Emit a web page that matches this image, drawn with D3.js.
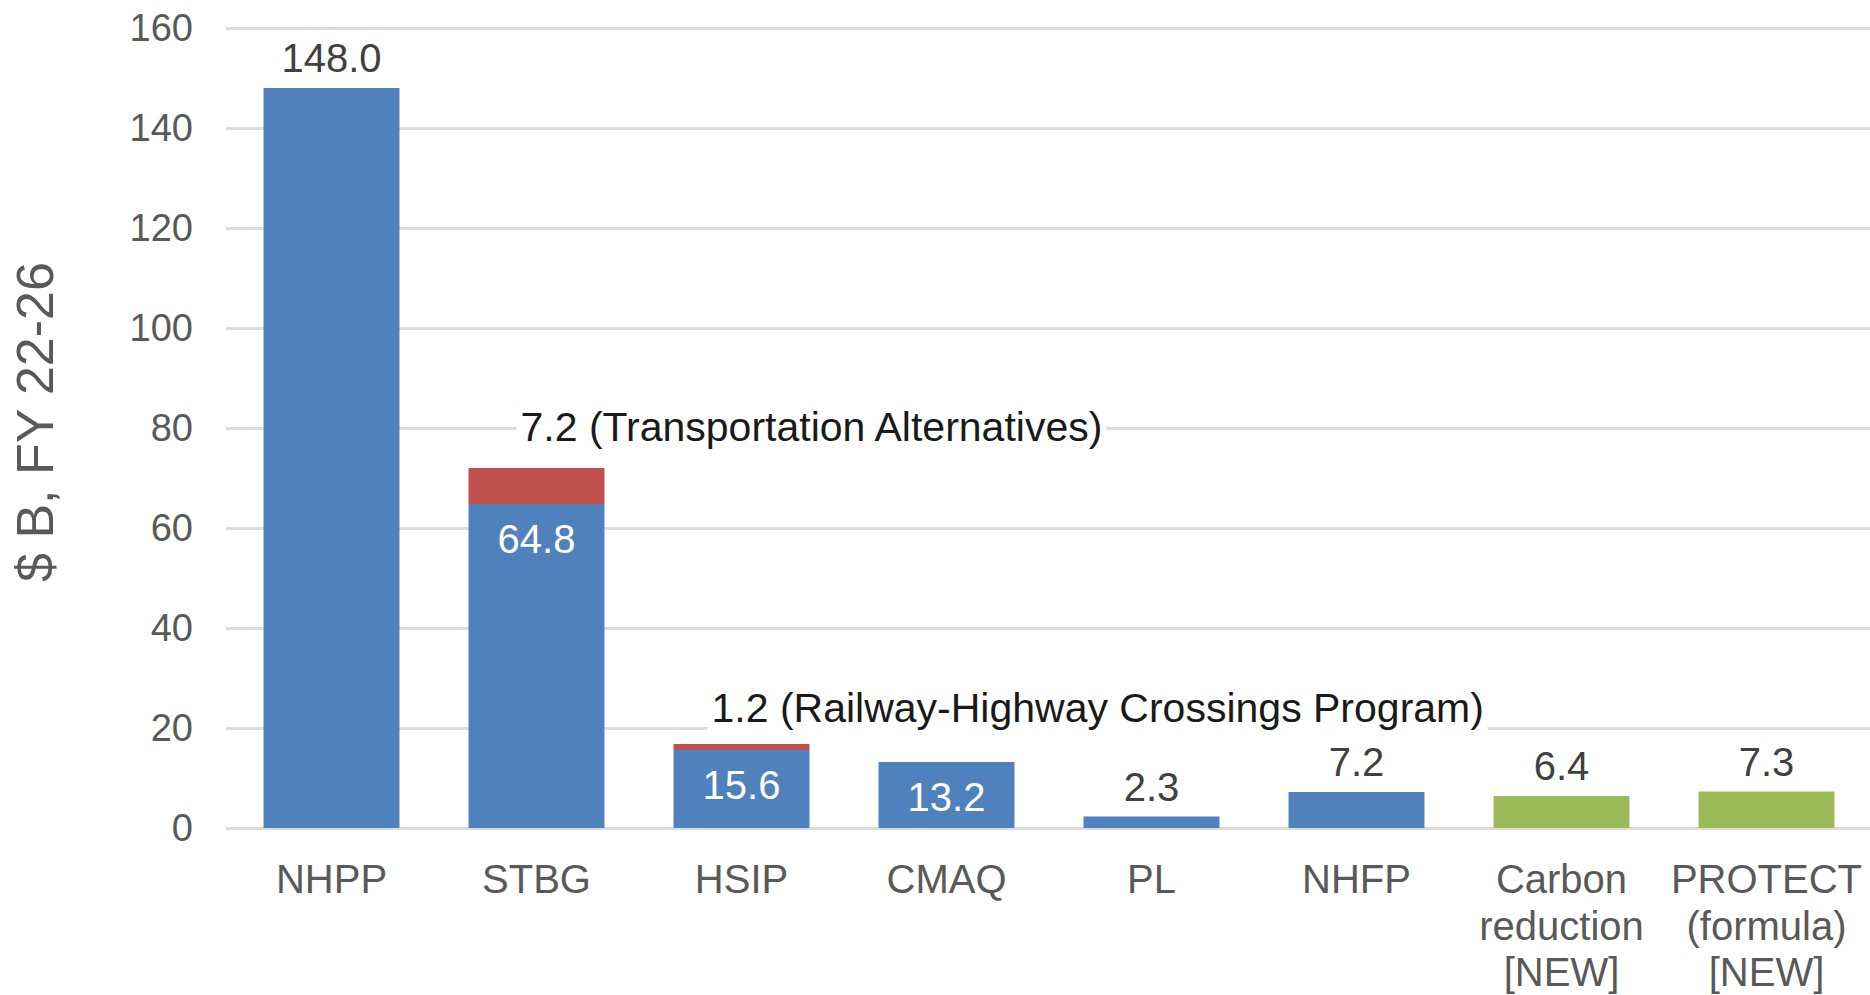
<!DOCTYPE html>
<html>
<head>
<meta charset="utf-8">
<script src="https://cdn.jsdelivr.net/npm/d3@7"></script>
<style>
    body { margin: 0; background: #fff; }
    svg { display: block; font-family: "Liberation Sans", Arial, sans-serif; }
</style>
</head>
<body>
<svg id="chart"></svg>
<script>
// categories and tick labels (multi-line)
const categories = ["NHPP", "STBG", "HSIP", "CMAQ", "PL", "NHFP", "Carbon reduction [NEW]", "PROTECT (formula) [NEW]"];
const categoryLines = [["NHPP"], ["STBG"], ["HSIP"], ["CMAQ"], ["PL"], ["NHFP"],
    ["Carbon", "reduction", "[NEW]"], ["PROTECT", "(formula)", "[NEW]"]];

// series values, $ B over FY 22-26
const coreValues = [148.0, 64.8, 15.6, 13.2, 2.3, 7.2, 0, 0];
const setAsideValues = [0, 7.2, 1.2, 0, 0, 0, 0, 0];
const newProgramValues = [0, 0, 0, 0, 0, 0, 6.4, 7.3];

// set-aside callouts
const setAsideNotes = [
    { category: "STBG", text: "7.2 (Transportation Alternatives)" },
    { category: "HSIP", text: "1.2 (Railway-Highway Crossings Program)" }
];

const yTicks = [0, 20, 40, 60, 80, 100, 120, 140, 160];
const yAxisTitle = "$ B, FY 22-26";

const width = 1870, height = 995;
const margin = { top: 28, right: 1, bottom: 167, left: 229 };

const svg = d3.select("#chart").attr("width", width).attr("height", height);

const xScale = d3.scaleBand()
    .domain(categories)
    .range([margin.left, width - margin.right])
    .paddingInner(0.337)
    .paddingOuter(0.1685);

const yScale = d3.scaleLinear().domain([0, 160]).range([height - margin.bottom, margin.top]);

const colors = { core: "#4f81bd", setAside: "#c0504d", newProgram: "#9bbb59" };

// gridlines + y tick labels
const yAxisGroup = svg.append("g")
    .attr("transform", `translate(${margin.left - 3},0)`)
    .call(d3.axisLeft(yScale).tickValues(yTicks).tickSizeInner(-(width - margin.left + 3)).tickSizeOuter(0).tickPadding(33));
yAxisGroup.select(".domain").remove();
yAxisGroup.selectAll(".tick line").attr("stroke", "#dcdcdc").attr("stroke-width", 3);
yAxisGroup.selectAll(".tick text")
    .attr("fill", "#595959")
    .style("font-size", "38px");

// y axis title
svg.append("text")
    .attr("transform", `translate(53,${(yScale(0) + yScale(160)) / 2 - 6}) rotate(-90)`)
    .attr("text-anchor", "middle")
    .attr("fill", "#595959")
    .style("font-size", "52px")
    .text(yAxisTitle);

// stacked bars
const rows = categories.map((c, i) => ({
    category: c, core: coreValues[i], setAside: setAsideValues[i], newProgram: newProgramValues[i]
}));
const stack = d3.stack().keys(["core", "setAside", "newProgram"]);
const series = stack(rows);

svg.append("g").selectAll("g")
    .data(series)
    .join("g")
    .attr("fill", d => colors[d.key])
    .selectAll("rect")
    .data(d => d.filter(p => p[1] > p[0]))
    .join("rect")
    .attr("x", d => xScale(d.data.category))
    .attr("y", d => yScale(d[1]))
    .attr("width", xScale.bandwidth())
    .attr("height", d => yScale(d[0]) - yScale(d[1]));

// value labels: inside the bar for the stacked ones and CMAQ, above the others
const insideLabel = ["STBG", "HSIP", "CMAQ"];
const fmt = d3.format(".1f");

svg.append("g").selectAll("text")
    .data(rows)
    .join("text")
    .attr("x", d => xScale(d.category) + xScale.bandwidth() / 2)
    .attr("y", d => {
        const v = d.core + d.newProgram;
        return insideLabel.includes(d.category) ? yScale(d.core) + 49 : yScale(v + d.setAside) - 16;
    })
    .attr("text-anchor", "middle")
    .attr("fill", d => insideLabel.includes(d.category) ? "#ffffff" : "#404040")
    .style("font-size", "40px")
    .text(d => fmt(d.core + d.newProgram));

// set-aside callouts with white backing over gridlines
const noteOffset = { STBG: { dx: -16, dy: -27 }, HSIP: { dx: -30, dy: -22 } };
setAsideNotes.forEach(n => {
    const row = rows.find(r => r.category === n.category);
    const off = noteOffset[n.category];
    const g = svg.append("g");
    const t = g.append("text")
        .attr("x", xScale(n.category) + xScale.bandwidth() / 2 + off.dx)
        .attr("y", yScale(row.core + row.setAside) + off.dy)
        .attr("fill", "#1a1a1a")
        .style("font-size", "41px")
        .text(n.text);
    const bb = t.node().getBBox();
    g.insert("rect", "text")
        .attr("x", bb.x - 4)
        .attr("y", bb.y)
        .attr("width", bb.width + 8)
        .attr("height", bb.height)
        .attr("fill", "#fff");
});

// category labels
const xAxisGroup = svg.append("g")
    .attr("transform", `translate(0,${yScale(0)})`)
    .call(d3.axisBottom(xScale).tickSize(0).tickFormat(""));
xAxisGroup.select(".domain").remove();

xAxisGroup.selectAll(".tick")
    .append("text")
    .attr("fill", "#595959")
    .attr("text-anchor", "middle")
    .style("font-size", "40px")
    .selectAll("tspan")
    .data((d, i) => categoryLines[i])
    .join("tspan")
    .attr("x", 0)
    .attr("y", (d, i) => 65 + i * 46.5)
    .text(d => d);
</script>
</body>
</html>
